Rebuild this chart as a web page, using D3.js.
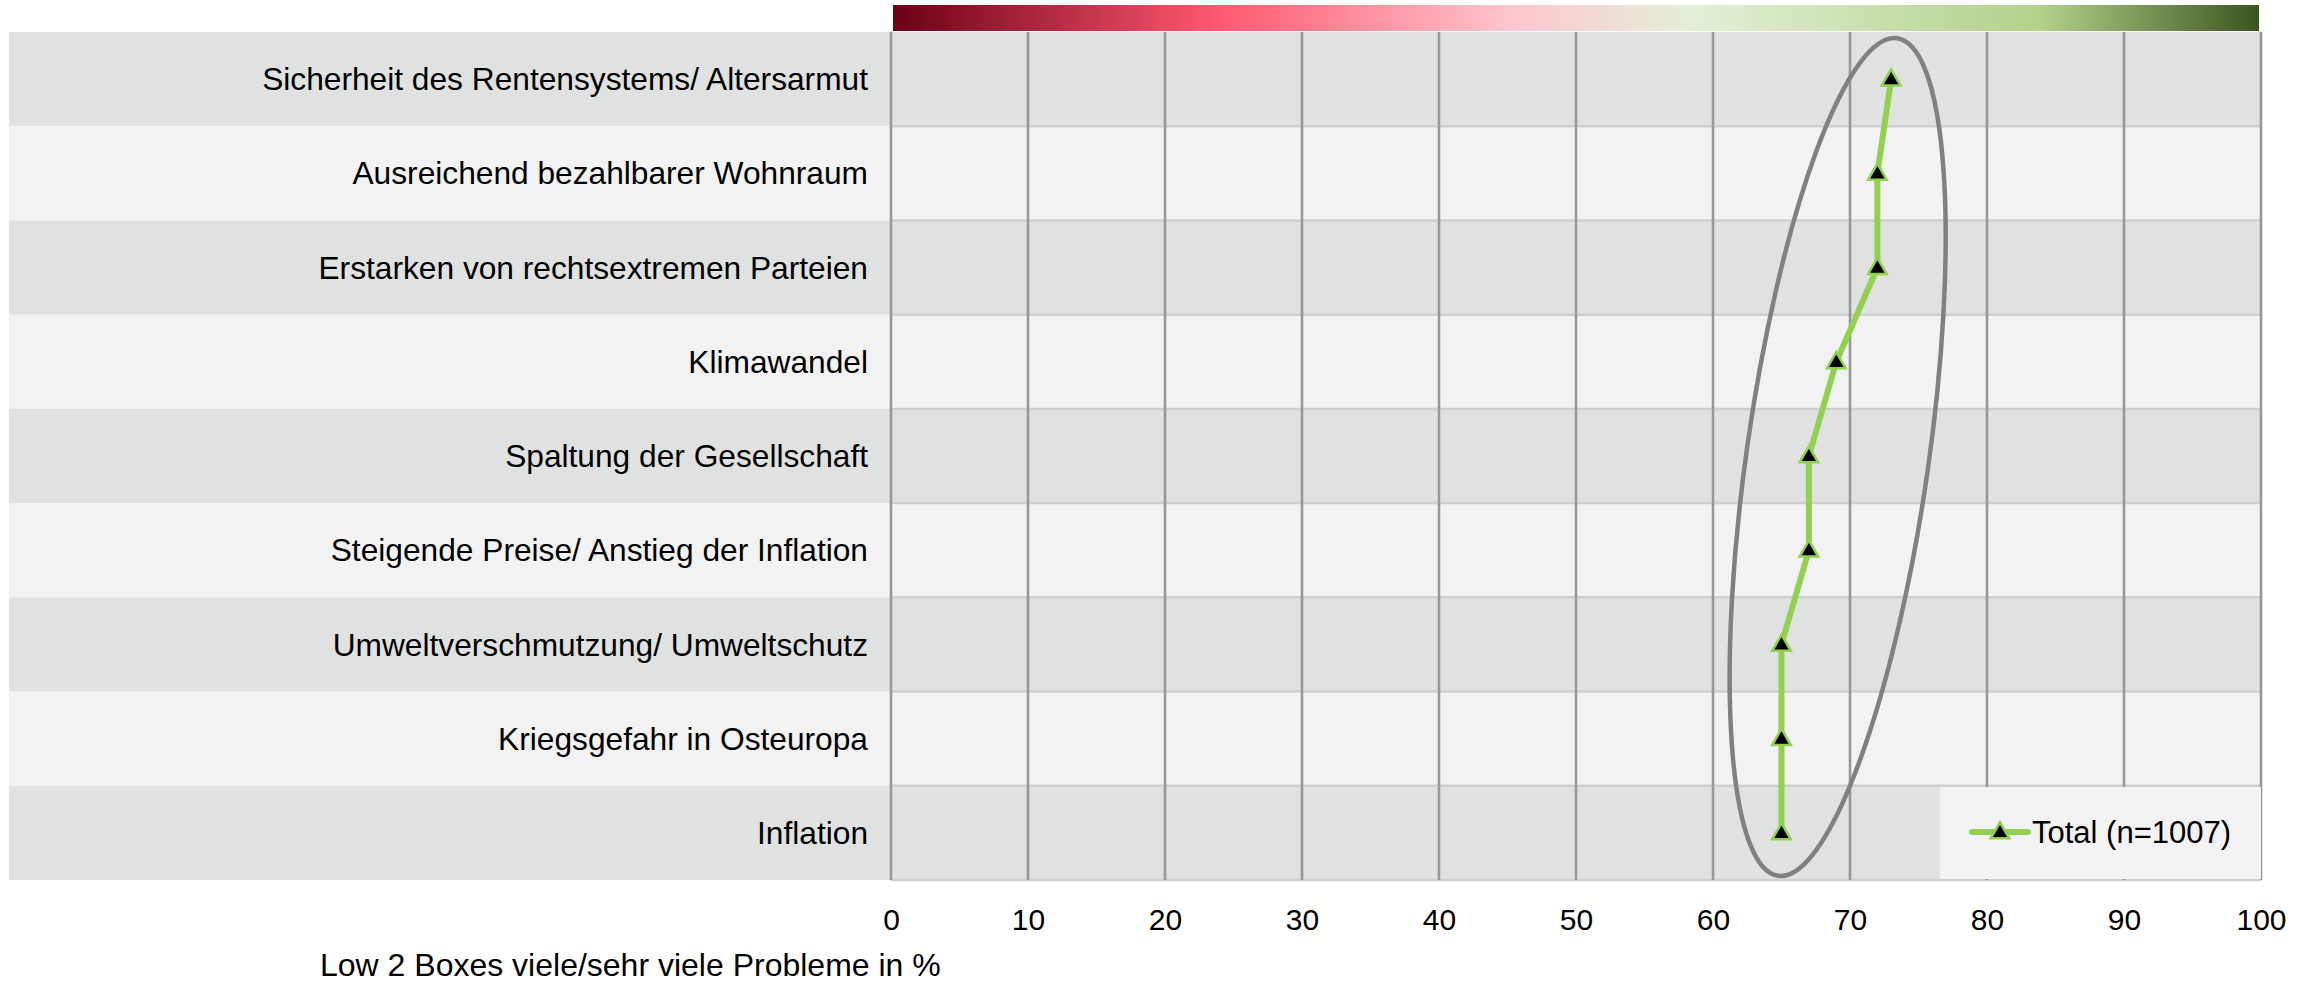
<!DOCTYPE html>
<html>
<head>
<meta charset="utf-8">
<script src="https://cdn.jsdelivr.net/npm/d3@7"></script>
<style>
  body { margin: 0; background: #fff; }
  text { font-family: "Liberation Sans", Arial, sans-serif; fill: #000; }
</style>
</head>
<body>
<div id="viz"></div>
<script>
// chart data
const CATEGORIES = [
  "Sicherheit des Rentensystems/ Altersarmut",
  "Ausreichend bezahlbarer Wohnraum",
  "Erstarken von rechtsextremen Parteien",
  "Klimawandel",
  "Spaltung der Gesellschaft",
  "Steigende Preise/ Anstieg der Inflation",
  "Umweltverschmutzung/ Umweltschutz",
  "Kriegsgefahr in Osteuropa",
  "Inflation"
];
const TOTAL = [73, 72, 72, 69, 67, 67, 65, 65, 65];
const X_TICKS = [0, 10, 20, 30, 40, 50, 60, 70, 80, 90, 100];
const SERIES_NAME = "Total (n=1007)";
const X_TITLE = "Low 2 Boxes viele/sehr viele Probleme in %";

// frame constants
const F_WIDTH = 2315;
const F_HEIGHT = 982;
const PLOT = {left: 891, right: 2261, top: 32, bottom: 880};
const BAND_LEFT = 9;
const GREEN = "#92d050";

const FRAME = d3.select("#viz")
  .append("svg")
    .attr("width", F_WIDTH)
    .attr("height", F_HEIGHT);

const X_SCALE = d3.scaleLinear()
  .domain([0, 100])
  .range([PLOT.left, PLOT.right]);

const Y_SCALE = d3.scaleBand()
  .domain(CATEGORIES)
  .range([PLOT.top, PLOT.bottom])
  .padding(0);

// colour gradient strip on top
const defs = FRAME.append("defs");
const grad = defs.append("linearGradient").attr("id", "topgrad");
[
  [0, "#6c0016"], [0.24, "#ff5a70"], [0.45, "#ffc5cd"], [0.54, "#ebe2d6"],
  [0.585, "#e2efd6"], [0.84, "#b2d189"], [1, "#3c5520"]
].forEach(s => grad.append("stop").attr("offset", s[0]).attr("stop-color", s[1]));

FRAME.append("rect")
  .attr("x", X_SCALE(0) + 2)
  .attr("y", 5)
  .attr("width", X_SCALE(100) - X_SCALE(0) - 4)
  .attr("height", 26)
  .attr("fill", "url(#topgrad)");

// alternating row bands
FRAME.selectAll(".band")
  .data(CATEGORIES)
  .enter()
  .append("rect")
    .attr("x", BAND_LEFT)
    .attr("y", d => Y_SCALE(d))
    .attr("width", PLOT.right - BAND_LEFT)
    .attr("height", Y_SCALE.bandwidth())
    .attr("fill", (d, i) => i % 2 === 0 ? "#e0e1e1" : "#f2f2f2");

// row separators in plot area
FRAME.selectAll(".sep")
  .data(CATEGORIES.slice(1).concat(["__end"]))
  .enter()
  .append("line")
    .attr("x1", PLOT.left)
    .attr("x2", PLOT.right)
    .attr("y1", d => d === "__end" ? PLOT.bottom : Y_SCALE(d))
    .attr("y2", d => d === "__end" ? PLOT.bottom : Y_SCALE(d))
    .attr("stroke", "#cfcfcf")
    .attr("stroke-width", 2.5);

// vertical grid
FRAME.selectAll(".grid")
  .data(X_TICKS)
  .enter()
  .append("line")
    .attr("x1", d => X_SCALE(d))
    .attr("x2", d => X_SCALE(d))
    .attr("y1", PLOT.top)
    .attr("y2", PLOT.bottom)
    .attr("stroke", "#979797")
    .attr("stroke-width", 2.6);

// category labels
FRAME.selectAll(".cat")
  .data(CATEGORIES)
  .enter()
  .append("text")
    .attr("x", PLOT.left - 23)
    .attr("y", d => Y_SCALE(d) + Y_SCALE.bandwidth() / 2)
    .attr("dy", "0.35em")
    .attr("text-anchor", "end")
    .style("font-size", "31.7px")
    .text(d => d);

// x axis tick labels
const xAxis = FRAME.append("g")
  .attr("transform", "translate(0," + 909 + ")")
  .call(d3.axisBottom(X_SCALE).tickValues(X_TICKS).tickSize(0).tickPadding(0));
xAxis.select(".domain").remove();
xAxis.selectAll("text")
  .attr("dy", "0.71em")
  .style("font-size", "30px")
  .style("font-family", "'Liberation Sans', Arial, sans-serif")
  .attr("fill", "#000");

FRAME.append("text")
  .attr("x", 320)
  .attr("y", 976)
  .style("font-size", "32px")
  .text(X_TITLE);

// highlight ellipse
const cy = (PLOT.top + PLOT.bottom) / 2 + 1;
FRAME.append("ellipse")
  .attr("cx", 0)
  .attr("cy", 0)
  .attr("rx", 91)
  .attr("ry", 423)
  .attr("transform", "translate(" + X_SCALE(69.1) + "," + cy + ") rotate(8.1)")
  .attr("fill", "none")
  .attr("stroke", "#808080")
  .attr("stroke-width", 4.5);

// line series
const yMid = d => Y_SCALE(d) + Y_SCALE.bandwidth() / 2;
const line = d3.line()
  .x((d, i) => X_SCALE(TOTAL[i]))
  .y(d => yMid(d));

FRAME.append("path")
  .datum(CATEGORIES)
  .attr("d", line)
  .attr("fill", "none")
  .attr("stroke", GREEN)
  .attr("stroke-width", 6)
  .attr("stroke-linejoin", "round");

const tri = d3.symbol().type(d3.symbolTriangle).size(150);

FRAME.selectAll(".pt")
  .data(CATEGORIES)
  .enter()
  .append("path")
    .attr("d", tri)
    .attr("transform", (d, i) => "translate(" + X_SCALE(TOTAL[i]) + "," + (yMid(d) + 1) + ")")
    .attr("fill", "#000")
    .attr("stroke", GREEN)
    .attr("stroke-width", 2.5);

// legend
const LG = {x: 1940, y: 787, w: PLOT.right - 1940, h: PLOT.bottom - 787 - 1};
FRAME.append("rect")
  .attr("x", LG.x)
  .attr("y", LG.y)
  .attr("width", LG.w)
  .attr("height", LG.h)
  .attr("fill", "#f2f2f2");

FRAME.append("line")
  .attr("x1", LG.x + 32)
  .attr("x2", LG.x + 88)
  .attr("y1", LG.y + 45)
  .attr("y2", LG.y + 45)
  .attr("stroke", GREEN)
  .attr("stroke-width", 6)
  .attr("stroke-linecap", "round");

FRAME.append("path")
  .attr("d", tri)
  .attr("transform", "translate(" + (LG.x + 60) + "," + (LG.y + 46) + ")")
  .attr("fill", "#000")
  .attr("stroke", GREEN)
  .attr("stroke-width", 2.5);

FRAME.append("text")
  .attr("x", LG.x + 92)
  .attr("y", LG.y + 45)
  .attr("dy", "0.35em")
  .style("font-size", "31px")
  .text(SERIES_NAME);
</script>
</body>
</html>
